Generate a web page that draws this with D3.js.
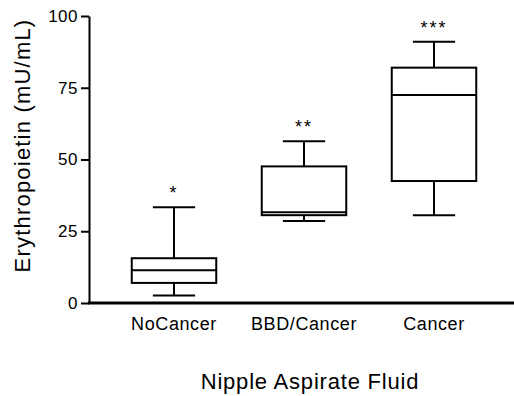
<!DOCTYPE html>
<html>
<head>
<meta charset="utf-8">
<script src="https://cdn.jsdelivr.net/npm/d3@7"></script>
<style>
  body { margin: 0; background: #fff; }
  text { font-family: "Liberation Sans", Arial, sans-serif; fill: #000; }
</style>
</head>
<body>
<svg id="chart" width="514" height="396"></svg>
<script>
// groups and box stats
const groups = ['NoCancer', 'BBD/Cancer', 'Cancer'];
const mins = [2.6, 28.6, 30.6];
const q1s = [7.0, 30.6, 42.5];
const medians = [11.4, 31.6, 72.5];
const q3s = [15.6, 47.6, 82.0];
const maxs = [33.4, 56.4, 91.0];
const stars = ['*', '**', '***'];
const yTicks = [0, 25, 50, 75, 100];

const svg = d3.select('#chart');
const margin = { top: 16, right: 0, bottom: 93, left: 89 };
const width = 514;
const height = 396;

const y = d3.scaleLinear()
  .domain([0, 100])
  .range([height - margin.bottom, margin.top]);

const x = d3.scaleBand()
  .domain(groups)
  .range([109, 499])
  .paddingInner(0.35)
  .paddingOuter(0.175);

// y axis
const yAxis = svg.append('g')
  .attr('transform', `translate(${margin.left},0)`)
  .call(d3.axisLeft(y).tickValues(yTicks).tickSize(8).tickSizeOuter(0).tickPadding(3));
yAxis.select('.domain').attr('stroke-width', 2);
yAxis.selectAll('.tick line').attr('stroke-width', 2);
yAxis.selectAll('.tick text')
  .style('font-size', '17px')
  .style('letter-spacing', '0.5px');

// x axis line
svg.append('line')
  .attr('x1', margin.left - 1)
  .attr('x2', width)
  .attr('y1', y(0))
  .attr('y2', y(0))
  .attr('stroke', '#000')
  .attr('stroke-width', 3);

// x labels
svg.append('g')
  .selectAll('text')
  .data(groups)
  .enter()
  .append('text')
  .attr('x', d => x(d) + x.bandwidth() / 2)
  .attr('y', 330)
  .attr('text-anchor', 'middle')
  .style('font-size', '18px')
  .style('letter-spacing', '0.6px')
  .text(d => d);

const boxes = svg.append('g')
  .selectAll('g')
  .data(groups)
  .enter()
  .append('g');

const cx = d => x(d) + x.bandwidth() / 2;
const capW = x.bandwidth() / 2;

// whiskers
boxes.append('line')
  .attr('x1', cx).attr('x2', cx)
  .attr('y1', (d, i) => y(maxs[i]))
  .attr('y2', (d, i) => y(q3s[i]));
boxes.append('line')
  .attr('x1', cx).attr('x2', cx)
  .attr('y1', (d, i) => y(q1s[i]))
  .attr('y2', (d, i) => y(mins[i]));
boxes.append('line')
  .attr('x1', d => cx(d) - capW / 2).attr('x2', d => cx(d) + capW / 2)
  .attr('y1', (d, i) => y(maxs[i]))
  .attr('y2', (d, i) => y(maxs[i]));
boxes.append('line')
  .attr('x1', d => cx(d) - capW / 2).attr('x2', d => cx(d) + capW / 2)
  .attr('y1', (d, i) => y(mins[i]))
  .attr('y2', (d, i) => y(mins[i]));

// box
boxes.append('rect')
  .attr('x', d => x(d))
  .attr('width', x.bandwidth())
  .attr('y', (d, i) => y(q3s[i]))
  .attr('height', (d, i) => y(q1s[i]) - y(q3s[i]))
  .attr('fill', '#fff');

// median
boxes.append('line')
  .attr('x1', d => x(d)).attr('x2', d => x(d) + x.bandwidth())
  .attr('y1', (d, i) => y(medians[i]))
  .attr('y2', (d, i) => y(medians[i]));

boxes.selectAll('line, rect')
  .attr('stroke', '#000')
  .attr('stroke-width', 2);

// significance stars
boxes.append('text')
  .attr('x', cx)
  .attr('y', (d, i) => y(maxs[i]) - 8)
  .attr('text-anchor', 'middle')
  .style('font-size', '18px')
  .style('letter-spacing', '2px')
  .text((d, i) => stars[i]);

// axis titles
svg.append('text')
  .attr('transform', `translate(30,${(y(0) + y(100)) / 2 - 14}) rotate(-90)`)
  .attr('text-anchor', 'middle')
  .style('font-size', '22px')
  .style('letter-spacing', '1.2px')
  .text('Erythropoietin (mU/mL)');

svg.append('text')
  .attr('x', 310)
  .attr('y', 389)
  .attr('text-anchor', 'middle')
  .style('font-size', '22px')
  .style('letter-spacing', '0.8px')
  .text('Nipple Aspirate Fluid');
</script>
</body>
</html>
